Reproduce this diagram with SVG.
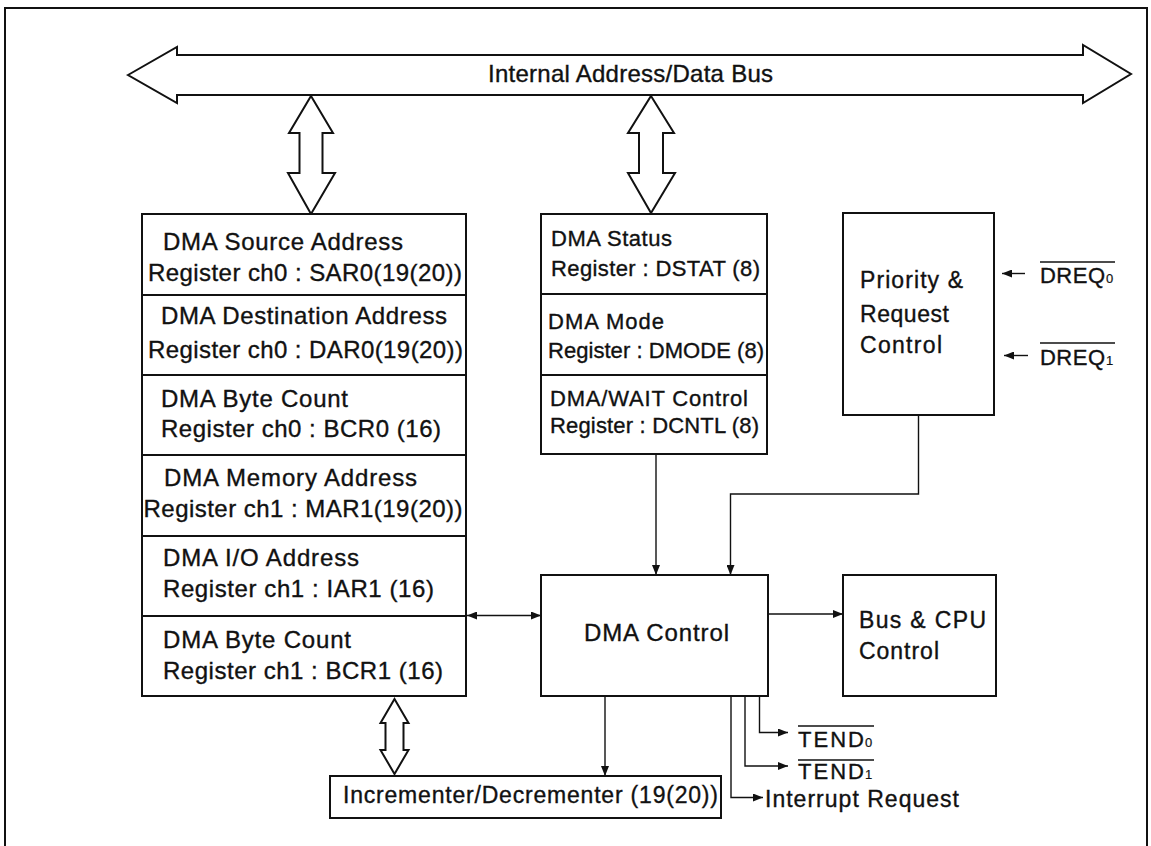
<svg xmlns="http://www.w3.org/2000/svg" width="1151" height="846" viewBox="0 0 1151 846">
<style>
text{font-family:"Liberation Sans",Arial,Helvetica,sans-serif;fill:#111;stroke:#111;stroke-width:0.35;}
.box{fill:#fff;stroke:#111;stroke-width:2;}
.blk{fill:#fff;stroke:#111;stroke-width:2;stroke-linejoin:miter;}
.ln{fill:none;stroke:#111;stroke-width:1.4;}
.ov{fill:none;stroke:#111;stroke-width:1.6;}
.f24{font-size:24px;}
.f23{font-size:23px;}
.f22{font-size:22px;}
.sub{font-size:13px;stroke-width:0.2;}
</style>
<defs>
<marker id="ah" viewBox="0 0 10 8" refX="10" refY="4" markerWidth="10" markerHeight="8" markerUnits="userSpaceOnUse" orient="auto-start-reverse">
<path d="M0,0 L10,4 L0,8 Z" fill="#111"/>
</marker>
</defs>
<rect width="1151" height="846" fill="#fff"/>
<rect x="5" y="8" width="1142" height="860" fill="none" stroke="#111" stroke-width="2"/>

<g id="bus">
<polygon class="blk" points="128,75 177,47 177,55 1083,55 1083,45 1131,74 1083,103 1083,95 177,95 177,103"/>
<text class="f24" x="488" y="82" textLength="285" lengthAdjust="spacing">Internal Address/Data Bus</text>
</g>

<g id="connectors">
<polygon class="blk" points="311,96 333,133 322.5,133 322.5,173 335,173 311,214 288,173 299.5,173 299.5,133 289,133"/>
<polygon class="blk" points="651,96 674,133 663,133 663,173 675,173 651,213 628,173 639,173 639,133 628,133"/>
<polygon class="blk" points="394.5,699 408.5,723 403.5,723 403.5,750 408.5,750 394.5,774 380.5,750 385.5,750 385.5,723 380.5,723"/>
<line class="ln" x1="656" y1="454" x2="656" y2="575" marker-end="url(#ah)"/>
<polyline class="ln" points="918.5,415 918.5,494 730.5,494 730.5,575" marker-end="url(#ah)"/>
<line class="ln" x1="467" y1="615.5" x2="541" y2="615.5" marker-start="url(#ah)" marker-end="url(#ah)"/>
<line class="ln" x1="768" y1="614" x2="843" y2="614" marker-end="url(#ah)"/>
<line class="ln" x1="605" y1="696" x2="605" y2="776" marker-end="url(#ah)"/>
<polyline class="ln" points="759.5,696 759.5,732.5 788,732.5" marker-end="url(#ah)"/>
<polyline class="ln" points="745,696 745,766 788,766" marker-end="url(#ah)"/>
<polyline class="ln" points="731,696 731,797.5 763,797.5" marker-end="url(#ah)"/>
<line class="ln" x1="1025" y1="273.5" x2="1002" y2="273.5" marker-end="url(#ah)"/>
<line class="ln" x1="1028" y1="355.5" x2="1004" y2="355.5" marker-end="url(#ah)"/>
</g>

<g id="sar0">
<rect class="box" x="142" y="214" width="324" height="81"/>
<text class="f24" x="163" y="250" textLength="240" lengthAdjust="spacing">DMA Source Address</text>
<text class="f24" x="148" y="281" textLength="314" lengthAdjust="spacing">Register ch0 : SAR0(19(20))</text>
</g>
<g id="dar0">
<rect class="box" x="142" y="295" width="324" height="80"/>
<text class="f24" x="161" y="324" textLength="286" lengthAdjust="spacing">DMA Destination Address</text>
<text class="f24" x="148" y="358" textLength="315" lengthAdjust="spacing">Register ch0 : DAR0(19(20))</text>
</g>
<g id="bcr0">
<rect class="box" x="142" y="375" width="324" height="80"/>
<text class="f24" x="161" y="407" textLength="187" lengthAdjust="spacing">DMA Byte Count</text>
<text class="f24" x="161" y="437" textLength="280" lengthAdjust="spacing">Register ch0 : BCR0 (16)</text>
</g>
<g id="mar1">
<rect class="box" x="142" y="455" width="324" height="81"/>
<text class="f24" x="164" y="486" textLength="253" lengthAdjust="spacing">DMA Memory Address</text>
<text class="f24" x="143.5" y="517" textLength="319" lengthAdjust="spacing">Register ch1 : MAR1(19(20))</text>
</g>
<g id="iar1">
<rect class="box" x="142" y="536" width="324" height="80"/>
<text class="f24" x="163" y="566" textLength="196" lengthAdjust="spacing">DMA I/O Address</text>
<text class="f24" x="163" y="597" textLength="271" lengthAdjust="spacing">Register ch1 : IAR1 (16)</text>
</g>
<g id="bcr1">
<rect class="box" x="142" y="616" width="324" height="80"/>
<text class="f24" x="163" y="648" textLength="188" lengthAdjust="spacing">DMA Byte Count</text>
<text class="f24" x="163" y="679" textLength="280" lengthAdjust="spacing">Register ch1 : BCR1 (16)</text>
</g>

<g id="dstat">
<rect class="box" x="541" y="214" width="226" height="80"/>
<text class="f22" x="551" y="246" textLength="121" lengthAdjust="spacing">DMA Status</text>
<text class="f22" x="551" y="276" textLength="209" lengthAdjust="spacing">Register : DSTAT (8)</text>
</g>
<g id="dmode">
<rect class="box" x="541" y="294" width="226" height="81"/>
<text class="f22" x="548" y="329" textLength="116" lengthAdjust="spacing">DMA Mode</text>
<text class="f22" x="548" y="358" textLength="216" lengthAdjust="spacing">Register : DMODE (8)</text>
</g>
<g id="dcntl">
<rect class="box" x="541" y="375" width="226" height="79"/>
<text class="f22" x="550" y="406" textLength="198" lengthAdjust="spacing">DMA/WAIT Control</text>
<text class="f22" x="550" y="433" textLength="209" lengthAdjust="spacing">Register : DCNTL (8)</text>
</g>

<g id="priority">
<rect class="box" x="843" y="213" width="151" height="202"/>
<text class="f23" x="860" y="288" textLength="103" lengthAdjust="spacing">Priority &amp;</text>
<text class="f23" x="860" y="322" textLength="89" lengthAdjust="spacing">Request</text>
<text class="f23" x="860" y="353" textLength="82" lengthAdjust="spacing">Control</text>
</g>

<g id="dreq0">
<text class="f22" x="1040" y="283" textLength="65" lengthAdjust="spacing">DREQ</text>
<text class="sub" x="1106" y="283">0</text>
<line class="ov" x1="1040" y1="262" x2="1115" y2="262"/>
</g>
<g id="dreq1">
<text class="f22" x="1040" y="365" textLength="65" lengthAdjust="spacing">DREQ</text>
<text class="sub" x="1106" y="365">1</text>
<line class="ov" x1="1040" y1="343" x2="1115" y2="343"/>
</g>

<g id="dmacontrol">
<rect class="box" x="541" y="575" width="227" height="121"/>
<text class="f24" x="584" y="641" textLength="145" lengthAdjust="spacing">DMA Control</text>
</g>

<g id="buscpu">
<rect class="box" x="843" y="575" width="153" height="121"/>
<text class="f23" x="859" y="628" textLength="127" lengthAdjust="spacing">Bus &amp; CPU</text>
<text class="f23" x="859" y="659" textLength="80" lengthAdjust="spacing">Control</text>
</g>

<g id="incdec">
<rect class="box" x="330" y="776" width="391" height="42"/>
<text class="f23" x="343" y="803" textLength="375" lengthAdjust="spacing">Incrementer/Decrementer (19(20))</text>
</g>

<g id="tend0">
<text class="f22" x="798" y="747" textLength="66" lengthAdjust="spacing">TEND</text>
<text class="sub" x="865" y="747">0</text>
<line class="ov" x1="798" y1="726" x2="874" y2="726"/>
</g>
<g id="tend1">
<text class="f22" x="798" y="779" textLength="66" lengthAdjust="spacing">TEND</text>
<text class="sub" x="865" y="779">1</text>
<line class="ov" x1="798" y1="760" x2="874" y2="760"/>
</g>
<g id="intreq">
<text class="f23" x="765" y="807" textLength="194" lengthAdjust="spacing">Interrupt Request</text>
</g>
</svg>
